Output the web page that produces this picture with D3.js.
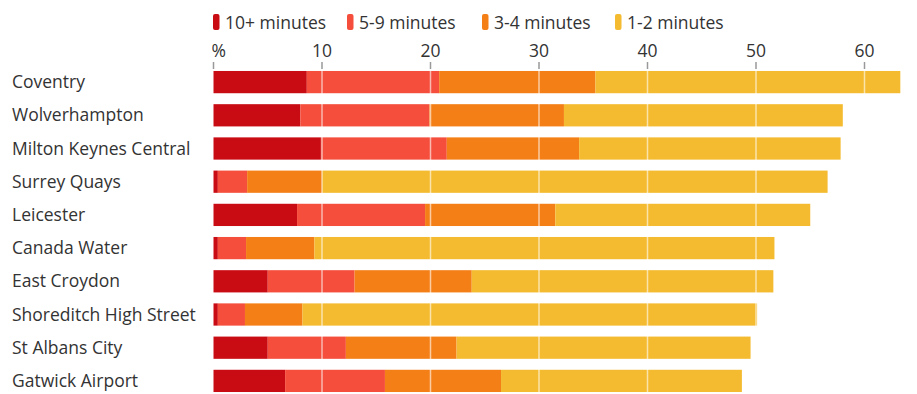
<!DOCTYPE html>
<html><head><meta charset="utf-8">
<script src="https://cdn.jsdelivr.net/npm/d3@7/dist/d3.min.js"></script>
<style>body{margin:0;background:#fff;}svg{display:block;font-family:"Open Sans",sans-serif;}</style>
</head><body><svg id="c" width="917" height="394"></svg>
<script>
const stations = ["Coventry","Wolverhampton","Milton Keynes Central","Surrey Quays","Leicester","Canada Water","East Croydon","Shoreditch High Street","St Albans City","Gatwick Airport"];
const series = ["10+ minutes","5-9 minutes","3-4 minutes","1-2 minutes"];
const v10plus = [8.6, 8.0, 9.9, 0.4, 7.7, 0.4, 5.0, 0.4, 5.0, 6.6];
const v5to9   = [12.2, 11.9, 11.6, 2.7, 11.8, 2.6, 8.0, 2.5, 7.2, 9.2];
const v3to4   = [14.4, 12.4, 12.2, 6.9, 12.0, 6.3, 10.8, 5.3, 10.2, 10.7];
const v1to2   = [28.1, 25.7, 24.1, 46.6, 23.5, 42.4, 27.8, 41.9, 27.1, 22.2];
const tickValues = [0,10,20,30,40,50,60];
const tickLabels = ["%","10","20","30","40","50","60"];
const colors = ["#c90c14","#f54e3c","#f57f17","#f4bb30"];

const svg = d3.select("#c");
const x = d3.scaleLinear().domain([0,60]).range([213.5, 864.5]);
const y = d3.scaleBand().domain(stations).range([66, 397]).paddingInner(0.33).paddingOuter(0.15);

const rows = stations.map((s,i)=>({station:s, "10+ minutes":v10plus[i], "5-9 minutes":v5to9[i], "3-4 minutes":v3to4[i], "1-2 minutes":v1to2[i]}));
const stacked = d3.stack().keys(series)(rows);
const color = d3.scaleOrdinal().domain(series).range(colors);

const FS = 17.5;
// legend
const leg = svg.append("g");
const legX = [213, 347, 482, 615];
series.forEach((s,i)=>{
  const g = leg.append("g").attr("transform",`translate(${legX[i]},0)`);
  g.append("rect").attr("x",0).attr("y",14).attr("width",6.5).attr("height",16).attr("rx",2).attr("fill",colors[i]);
  g.append("text").attr("x",12).attr("y",28.5).attr("font-size",FS).attr("fill","#333").text(s);
});

// axis labels and ticks
const ax = svg.append("g");
tickValues.forEach((t,i)=>{
  ax.append("text").attr("x",x(t)).attr("y",57).attr("text-anchor", i===0?"start":"middle")
    .attr("dx", i===0?-2:0).attr("font-size",FS).attr("fill","#333").text(tickLabels[i]);
  ax.append("line").attr("x1",x(t)).attr("x2",x(t)).attr("y1",62).attr("y2",69)
    .attr("stroke","#999").attr("stroke-width",1.5);
});

// bars
svg.append("g").selectAll("g").data(stacked).join("g").attr("fill",d=>color(d.key))
  .selectAll("rect").data(d=>d).join("rect")
  .attr("x",d=>x(d[0])).attr("width",d=>x(d[1])-x(d[0]))
  .attr("y",d=>y(d.data.station)).attr("height",y.bandwidth());

// gridlines over bars
svg.append("g").selectAll("line").data(tickValues.filter(t=>t>0)).join("line")
  .attr("x1",d=>x(d)).attr("x2",d=>x(d)).attr("y1",70).attr("y2",394)
  .attr("stroke","#fff").attr("stroke-opacity",0.6).attr("stroke-width",1.5);

// station labels
svg.append("g").selectAll("text").data(stations).join("text")
  .attr("x",12).attr("y",d=>y(d)+y.bandwidth()/2).attr("dy","0.35em")
  .attr("font-size",FS).attr("fill","#333").text(d=>d);
</script></body></html>
